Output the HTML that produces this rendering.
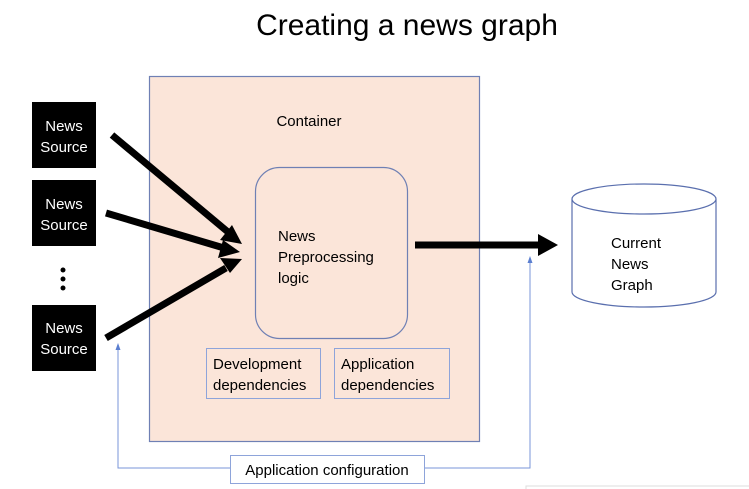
<!DOCTYPE html>
<html><head><style>
body{margin:0;width:749px;height:489px;background:#fff;overflow:hidden;font-family:"Liberation Sans",sans-serif}
svg{position:absolute;left:0;top:0}
</style></head><body>
<svg width="749" height="489" viewBox="0 0 749 489" font-family="Liberation Sans, sans-serif">
<text x="407" y="35" font-size="30" text-anchor="middle" fill="#000">Creating a news graph</text>
<rect x="149.5" y="76.5" width="330" height="365" fill="#fbe5d9" stroke="#6f80b4" stroke-width="1.2"/>
<text x="309" y="126" font-size="15" text-anchor="middle">Container</text>
<rect x="255.5" y="167.5" width="152" height="171" rx="24" fill="#fbe5d9" stroke="#6f80b4" stroke-width="1.2"/>
<text font-size="15"><tspan x="278" y="241">News</tspan><tspan x="278" y="262">Preprocessing</tspan><tspan x="278" y="283">logic</tspan></text>
<rect x="206.5" y="348.5" width="114" height="50" fill="#fbe5d9" stroke="#8ea4da"/>
<text font-size="15"><tspan x="213" y="369">Development</tspan><tspan x="213" y="390">dependencies</tspan></text>
<rect x="334.5" y="348.5" width="115" height="50" fill="#fbe5d9" stroke="#8ea4da"/>
<text font-size="15"><tspan x="341" y="369">Application</tspan><tspan x="341" y="390">dependencies</tspan></text>
<g fill="#000">
<rect x="32" y="102" width="64" height="66"/><rect x="32" y="180" width="64" height="66"/><rect x="32" y="305" width="64" height="66"/>
<circle cx="63" cy="270" r="2.5"/><circle cx="63" cy="279" r="2.5"/><circle cx="63" cy="288" r="2.5"/>
</g>
<g fill="#fff" font-size="15" text-anchor="middle">
<text x="64" y="131">News</text><text x="64" y="152">Source</text>
<text x="64" y="209">News</text><text x="64" y="230">Source</text>
<text x="64" y="333">News</text><text x="64" y="354">Source</text>
</g>
<g stroke="#000" stroke-width="7">
<line x1="112" y1="135" x2="228" y2="232"/>
<line x1="106" y1="213" x2="224" y2="248"/>
<line x1="106" y1="338" x2="226" y2="268"/>
<line x1="415" y1="245" x2="540" y2="245"/>
</g>
<g fill="#000">
<polygon points="242,244 220,240 232,225"/>
<polygon points="240,252 218,258 223,240"/>
<polygon points="242,259 230,273 220,258"/>
<polygon points="558,245 538,234 538,256"/>
</g>
<path d="M118 350 V468 H530 V262" fill="none" stroke="#7a96d8" stroke-width="1"/>
<polygon points="118,343 115.5,350 120.5,350" fill="#5b7fd0"/>
<polygon points="530,256 527.5,263 532.5,263" fill="#5b7fd0"/>
<rect x="230.5" y="455.5" width="194" height="28" fill="#fff" stroke="#8ea4da"/>
<text x="327" y="475" font-size="15" text-anchor="middle">Application configuration</text>
<path d="M572 199 V292 A72 15 0 0 0 716 292 V199" fill="#fff" stroke="#5a6fae" stroke-width="1.2"/>
<ellipse cx="644" cy="199" rx="72" ry="15" fill="#fff" stroke="#5a6fae" stroke-width="1.2"/>
<text font-size="15"><tspan x="611" y="248">Current</tspan><tspan x="611" y="269">News</tspan><tspan x="611" y="290">Graph</tspan></text>
<path d="M526 489 V486 H749" fill="none" stroke="#ddd"/>
</svg>
</body></html>
